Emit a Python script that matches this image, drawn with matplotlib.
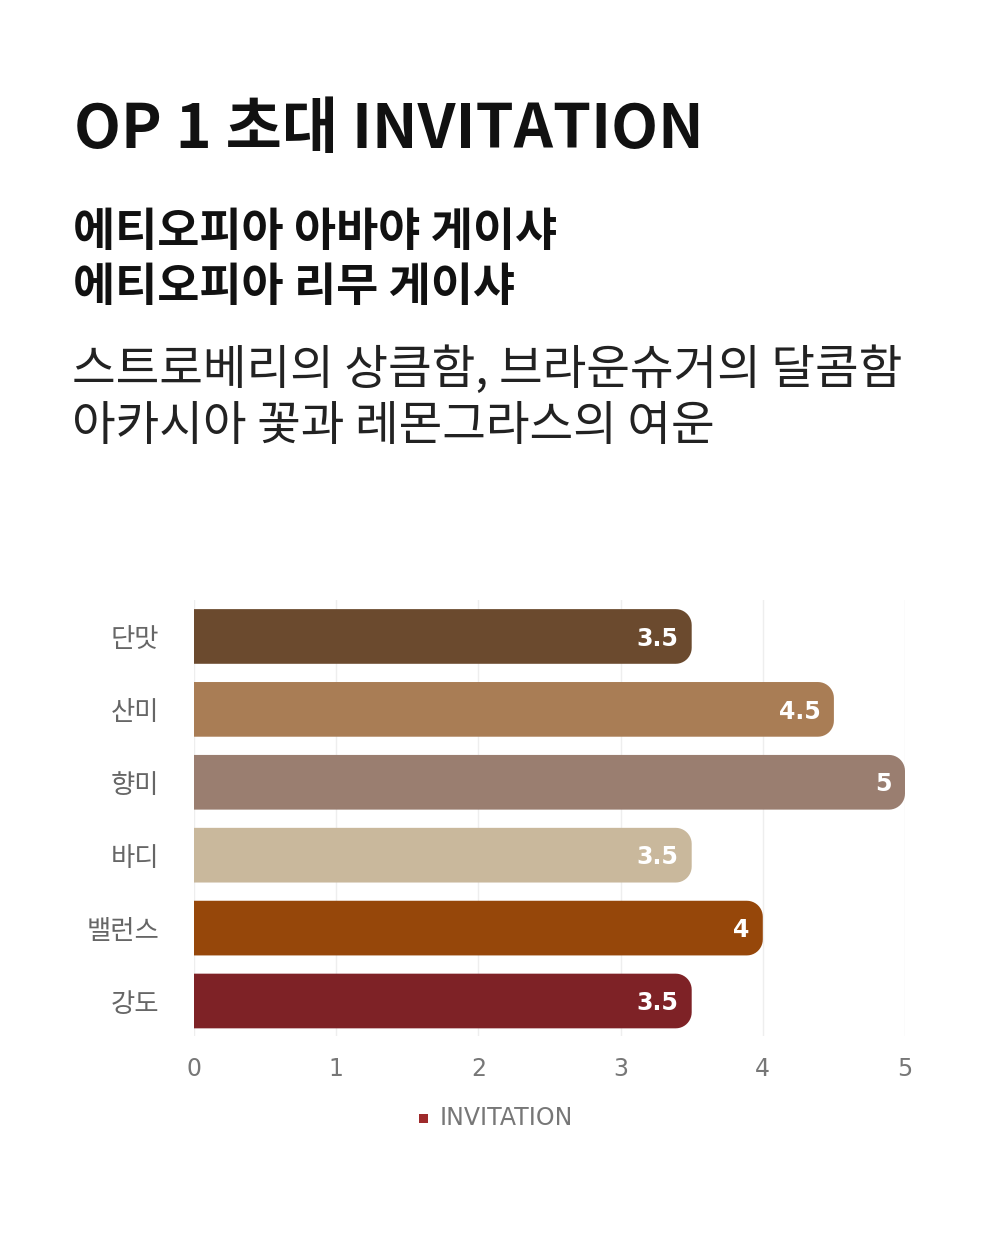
import matplotlib
matplotlib.use("Agg")
import numpy as np
import matplotlib.pyplot as plt
from matplotlib.patches import Polygon, Rectangle

plt.rcParams['font.family'] = ['Noto Sans CJK KR', 'DejaVu Sans']

title = "OP 1 초대 INVITATION"
subtitle = ["에티오피아 아바야 게이샤", "에티오피아 리무 게이샤"]
notes = ["스트로베리의 상큼함, 브라운슈거의 달콤함", "아카시아 꽃과 레몬그라스의 여운"]

categories = ["단맛", "산미", "향미", "바디", "밸런스", "강도"]
scores = [3.5, 4.5, 5, 3.5, 4, 3.5]
value_labels = ["3.5", "4.5", "5", "3.5", "4", "3.5"]
colors = ["#6B4A2E", "#A97D55", "#9A7E70", "#C9B89C", "#96470A", "#7E2226"]
series_name = "INVITATION"

W, H = 1003, 1253
fig = plt.figure(figsize=(W / 100, H / 100), dpi=100)
fig.patch.set_facecolor("white")


def fy(py):
    return 1 - py / H


# header text
fig.text(74 / W, fy(130), title, fontsize=44, fontweight="heavy", color="#111111",
         va="center", ha="left")
for i, line in enumerate(subtitle):
    fig.text(73 / W, fy(233 + i * 55), line, fontsize=33, fontweight="bold",
             color="#111111", va="center", ha="left")
for i, line in enumerate(notes):
    fig.text(72 / W, fy(370 + i * 56), line, fontsize=34.2, fontweight="light",
             color="#222222", va="center", ha="left")

# chart
ax_l, ax_r, ax_t, ax_b = 194, 905, 600, 1036
ax = fig.add_axes([ax_l / W, fy(ax_b), (ax_r - ax_l) / W, (ax_b - ax_t) / H])
ax.set_xlim(0, 5)
ax.set_ylim(5.48, -0.5)

xpx = (ax_r - ax_l) / 5.0
ypx = (ax_b - ax_t) / (5.48 + 0.5)
bar_h = 0.75
rx = 16 / xpx
ry = 16 / ypx
t = np.linspace(0, np.pi / 2, 12)


def bar_outline(v, y0, h):
    # square left end, rounded right corners
    cx = v - rx
    top = [(cx + rx * np.sin(a), y0 + ry - ry * np.cos(a)) for a in t]
    bot = [(cx + rx * np.cos(a), y0 + h - ry + ry * np.sin(a)) for a in t]
    return [(0, y0)] + top + bot + [(0, y0 + h)]


for i, (v, c) in enumerate(zip(scores, colors)):
    ax.add_patch(Polygon(bar_outline(v, i - bar_h / 2, bar_h), closed=True,
                         facecolor=c, edgecolor="none", zorder=3))
    ax.text(v - 13 / xpx, i + 0.03, value_labels[i], ha="right", va="center",
            fontsize=17, fontweight="bold", color="white", zorder=4,
            family="DejaVu Sans")

ax.set_xticks(range(6))
ax.set_xticklabels([str(k) for k in range(6)], fontsize=17, color="#777777",
                   family="DejaVu Sans")
ax.set_yticks(range(len(categories)))
ax.set_yticklabels(categories, fontsize=19, color="#666666")
ax.tick_params(axis="both", length=0)
ax.tick_params(axis="x", pad=15)
ax.tick_params(axis="y", pad=25)
ax.grid(axis="x", color="#EEEEEE", linewidth=1, zorder=0)
for s in ax.spines.values():
    s.set_visible(False)

# legend
fig.patches.append(Rectangle((419 / W, fy(1123)), 9 / W, 9 / H, transform=fig.transFigure,
                             facecolor="#9E2A2B", edgecolor="none"))
fig.text(440 / W, fy(1118), series_name, fontsize=17, color="#777777",
         va="center", ha="left", family="DejaVu Sans")

fig.savefig("out.png", dpi=100, facecolor="white")
